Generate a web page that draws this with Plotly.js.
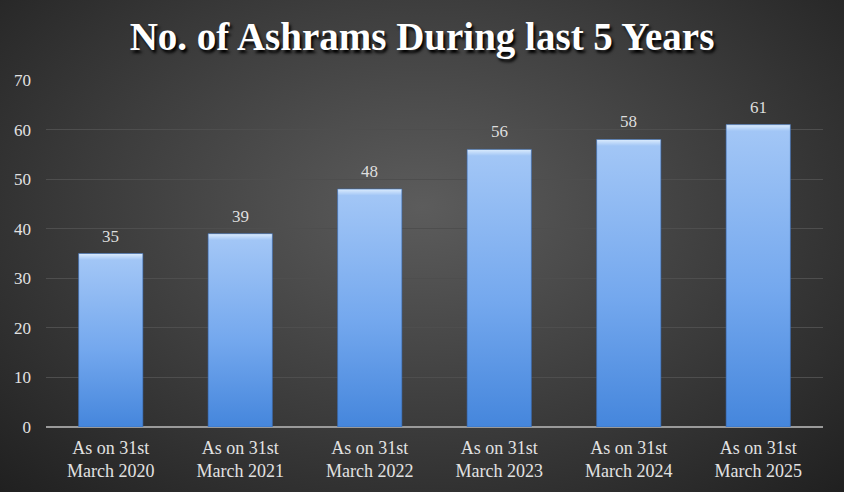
<!DOCTYPE html>
<html>
<head>
<meta charset="utf-8">
<script src="https://cdn.plot.ly/plotly-3.0.1.min.js"></script>
<style>
    html, body {
        margin: 0;
        padding: 0;
        width: 844px;
        height: 492px;
        overflow: hidden;
        background: radial-gradient(ellipse 75% 85% at 50% 42%, #5c5c5c 0%, #3d3d3d 50%, #1d1d1d 100%);
    }
    #myDiv { width: 844px; height: 492px; }
</style>
</head>
<body>
<div id="myDiv"></div>
<script>
let CATEGORIES = [
    "As on 31st<br>March 2020",
    "As on 31st<br>March 2021",
    "As on 31st<br>March 2022",
    "As on 31st<br>March 2023",
    "As on 31st<br>March 2024",
    "As on 31st<br>March 2025"
]
let ASHRAMS = [35, 39, 48, 56, 58, 61]
let Y_TICKS = [0, 10, 20, 30, 40, 50, 60, 70]

let BAR_HALF = 0.248
let LABEL_FONT = "Liberation Serif"

function barTraces() {
    // one filled rectangle per bar so each one gets its own vertical gradient
    let traces = []
    for (let i = 0; i < ASHRAMS.length; i++) {
        let v = ASHRAMS[i]
        let topEdge = 1 - 1.3 / v
        traces.push({
            x: [i - BAR_HALF, i - BAR_HALF, i + BAR_HALF, i + BAR_HALF, i - BAR_HALF],
            y: [0, v, v, 0, 0],
            type: 'scatter',
            mode: 'lines',
            fill: 'toself',
            line: { width: 0.6, color: '#3a6fb8' },
            fillgradient: {
                type: 'vertical',
                start: 0,
                stop: v,
                colorscale: [
                    [0, '#4586dc'],
                    [0.45, '#74a8ee'],
                    [topEdge, '#a2c6f6'],
                    [1, '#dcecfd']
                ]
            },
            text: String(v),
            hovertemplate: '%{text}<extra></extra>',
            hoveron: 'fills',
            showlegend: false
        })
    }
    return traces
}

// value labels above each bar
let valueLabels = ASHRAMS.map((d, i) => ({
    x: i,
    y: d,
    text: String(d),
    showarrow: false,
    yanchor: 'bottom',
    yshift: 6,
    font: { family: LABEL_FONT, size: 17, color: '#dedede' }
}))

let layout = {
    width: 844,
    height: 492,
    paper_bgcolor: 'rgba(0,0,0,0)',
    plot_bgcolor: 'rgba(0,0,0,0)',
    margin: { l: 46, r: 21, t: 80, b: 65 },
    title: {
        text: 'No. of Ashrams During last 5 Years',
        x: 0.5,
        xanchor: 'center',
        y: 0.926,
        yanchor: 'middle',
        font: {
            family: LABEL_FONT,
            size: 39,
            weight: 'bold',
            color: '#ffffff',
            shadow: '2px 3px 3px #000000'
        }
    },
    xaxis: {
        range: [-0.5, ASHRAMS.length - 0.5],
        tickvals: CATEGORIES.map((c, i) => i),
        ticktext: CATEGORIES,
        showgrid: false,
        zeroline: false,
        ticks: '',
        ticklabelstandoff: 8,
        tickfont: { family: LABEL_FONT, size: 18, color: '#e2e2e2' },
        fixedrange: true
    },
    yaxis: {
        range: [0, 70],
        tickvals: Y_TICKS,
        gridcolor: '#4e4e4e',
        gridwidth: 1,
        zeroline: true,
        zerolinecolor: '#9a9a9a',
        zerolinewidth: 1.5,
        ticks: '',
        ticklabelstandoff: 14,
        tickfont: { family: LABEL_FONT, size: 17, color: '#e2e2e2' },
        fixedrange: true
    },
    annotations: valueLabels
}

Plotly.newPlot('myDiv', barTraces(), layout, { displayModeBar: false })
</script>
</body>
</html>
